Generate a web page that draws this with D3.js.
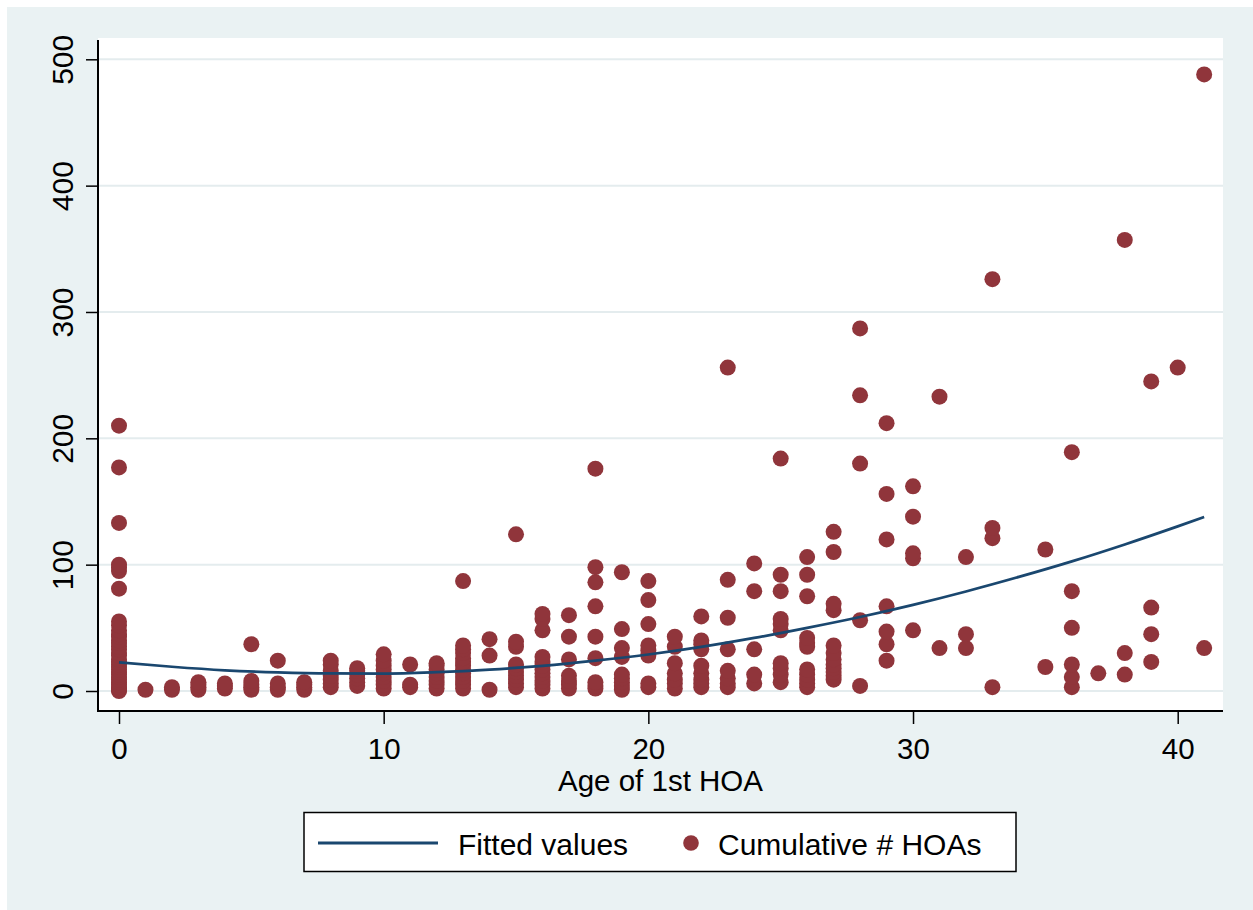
<!DOCTYPE html>
<html>
<head>
<meta charset="utf-8">
<script src="https://cdn.jsdelivr.net/npm/d3@7"></script>
<style>
  html, body { margin: 0; padding: 0; background: #ffffff; }
  svg { display: block; }
  text { font-family: "Liberation Sans", Arial, Helvetica, sans-serif; fill: #000; }
</style>
</head>
<body>
<svg id="chart" width="1253" height="910"></svg>
<script>
// ---- Data ----
const xTicks = [0, 10, 20, 30, 40];
const yTicks = [0, 100, 200, 300, 400, 500];
const xTitle = "Age of 1st HOA";
const legendLabels = ["Fitted values", "Cumulative # HOAs"];

// Cumulative # HOAs, one list per "Age of 1st HOA" (index = age 0..41)
const hoaByAge = [
  [0, 1, 2, 3, 5, 7, 9, 11, 13, 15, 17, 19, 21, 23, 25, 28, 30, 33, 35, 38, 40, 43, 45, 48, 52, 55, 81, 95, 98, 100, 133, 177, 210], // 0
  [1],                                   // 1
  [1, 3],                                // 2
  [1, 3, 5, 7],                          // 3
  [2, 4, 6],                             // 4
  [1, 3, 5, 8, 37],                      // 5
  [1, 3, 6, 24],                         // 6
  [1, 3, 5, 7],                          // 7
  [3, 6, 9, 12, 16, 21, 24],             // 8
  [4, 7, 10, 13, 16, 18],                // 9
  [2, 5, 8, 11, 14, 17, 20, 24, 29],     // 10
  [3, 5, 21],                            // 11
  [2, 5, 8, 11, 14, 17, 20, 22],         // 12
  [2, 5, 8, 11, 14, 17, 20, 23, 26, 30, 33, 36, 87], // 13
  [1, 28, 41],                           // 14
  [3, 6, 9, 12, 15, 18, 21, 35, 39, 124],// 15
  [2, 5, 8, 11, 14, 17, 20, 23, 27, 48, 57, 61], // 16
  [2, 5, 8, 12, 25, 43, 60],             // 17
  [2, 4, 7, 26, 43, 67, 86, 98, 176],    // 18
  [1, 4, 7, 10, 13, 27, 34, 49, 94],     // 19
  [3, 6, 28, 32, 36, 53, 72, 87],        // 20
  [2, 6, 9, 14, 22, 35, 43],             // 21
  [3, 6, 9, 14, 20, 33, 37, 40, 59],     // 22
  [3, 6, 10, 16, 33, 58, 88, 256],       // 23
  [6, 13, 33, 79, 101],                  // 24
  [7, 13, 18, 22, 48, 53, 57, 79, 92, 184], // 25
  [3, 6, 9, 13, 17, 35, 38, 42, 75, 92, 106], // 26
  [9, 12, 15, 18, 21, 25, 30, 36, 64, 69, 110, 126], // 27
  [4, 56, 180, 234, 287],                // 28
  [24, 37, 47, 67, 120, 156, 212],       // 29
  [48, 105, 109, 138, 162],              // 30
  [34, 233],                             // 31
  [34, 45, 106],                         // 32
  [3, 121, 129, 326],                    // 33
  [],                                    // 34
  [19, 112],                             // 35
  [3, 11, 21, 50, 79, 189],              // 36
  [14],                                  // 37
  [13, 30, 357],                         // 38
  [23, 45, 66, 245],                     // 39
  [256],                                 // 40
  [34, 488]                              // 41
];

// Fitted values (quadratic fit line), read at these ages
const fitAges   = [0, 2, 4, 6, 8, 10, 12, 14, 16, 18, 20, 22, 24, 26, 28, 30, 32, 34, 36, 38, 40, 41];
const fitValues = [22.7, 19.2, 16.4, 14.7, 13.9, 13.8, 14.9, 16.9, 19.9, 24.0, 28.9, 34.9, 42.0, 50.0, 58.6, 68.2, 78.8, 90.3, 102.6, 116.0, 130.3, 137.7];

// ---- Layout ----
const W = 1253, H = 910;
const plot = { left: 98, right: 1223, top: 38, bottom: 710 };
const colors = {
  bg: "#eaf2f3", plot: "#ffffff", grid: "#e4ecee",
  marker: "#90353b", line: "#1a476f", axis: "#000000"
};
const fontSize = "29.5px";

const svg = d3.select("#chart");

// Outer graph region (white margin on top/left)
svg.append("rect").attr("x", 0).attr("y", 0).attr("width", W).attr("height", H).attr("fill", "#ffffff");
svg.append("rect").attr("x", 7).attr("y", 7).attr("width", W - 7).attr("height", H - 7).attr("fill", colors.bg);

// Plot region
svg.append("rect")
  .attr("x", plot.left).attr("y", plot.top)
  .attr("width", plot.right - plot.left).attr("height", plot.bottom - plot.top)
  .attr("fill", colors.plot);

const x = d3.scaleLinear().domain([0, 40]).range([119, 1177.7]);
const y = d3.scaleLinear().domain([0, 500]).range([691, 59.3]);

// Gridlines
svg.append("g").selectAll("line").data(yTicks).join("line")
  .attr("x1", plot.left + 1).attr("x2", plot.right)
  .attr("y1", d => y(d)).attr("y2", d => y(d))
  .attr("stroke", colors.grid).attr("stroke-width", 2);

// Points
const points = [];
hoaByAge.forEach((vals, age) => vals.forEach(v => points.push({ age, v })));
svg.append("g").selectAll("circle").data(points).join("circle")
  .attr("cx", d => x(d.age)).attr("cy", d => y(d.v)).attr("r", 8)
  .attr("fill", colors.marker);

// Fitted line
const fit = fitAges.map((a, i) => ({ a, v: fitValues[i] }));
svg.append("path").datum(fit)
  .attr("d", d3.line().x(d => x(d.a)).y(d => y(d.v)).curve(d3.curveMonotoneX))
  .attr("fill", "none").attr("stroke", colors.line).attr("stroke-width", 2.7);

// X axis
const xAxis = svg.append("g").attr("transform", `translate(0,${plot.bottom + 1})`)
  .call(d3.axisBottom(x).tickValues(xTicks).tickSize(13).tickSizeOuter(0).tickFormat(d3.format("d")));
xAxis.select(".domain").attr("d", `M${plot.left - 1},0H${plot.right}`).attr("stroke", colors.axis).attr("stroke-width", 2);
xAxis.selectAll(".tick line").attr("stroke", colors.axis).attr("stroke-width", 1.5);
xAxis.selectAll(".tick text").attr("y", 47.5).attr("dy", null)
  .style("font-size", fontSize).style("font-family", '"Liberation Sans", Arial, sans-serif').attr("fill", "#000");

// Y axis
const yAxis = svg.append("g").attr("transform", `translate(${plot.left},0)`)
  .call(d3.axisLeft(y).tickValues(yTicks).tickSize(12).tickSizeOuter(0).tickFormat(d3.format("d")));
yAxis.select(".domain").attr("d", `M0,40V${plot.bottom + 2}`).attr("stroke", colors.axis).attr("stroke-width", 2);
yAxis.selectAll(".tick line").attr("stroke", colors.axis).attr("stroke-width", 1.5);
yAxis.selectAll(".tick text")
  .attr("x", null).attr("dy", null)
  .attr("transform", "translate(-25,0) rotate(-90)")
  .attr("text-anchor", "middle")
  .style("font-size", "30px").style("font-family", '"Liberation Sans", Arial, sans-serif').attr("fill", "#000");

// X axis title
svg.append("text")
  .attr("x", (plot.left + plot.right) / 2).attr("y", 790.5)
  .attr("text-anchor", "middle").style("font-size", fontSize)
  .text(xTitle);

// Legend
const lg = svg.append("g");
lg.append("rect").attr("x", 304).attr("y", 812.5).attr("width", 712).attr("height", 59)
  .attr("fill", "#ffffff").attr("stroke", "#000").attr("stroke-width", 1.5);
lg.append("line").attr("x1", 318).attr("x2", 438).attr("y1", 843).attr("y2", 843)
  .attr("stroke", colors.line).attr("stroke-width", 3);
lg.append("text").attr("x", 458).attr("y", 855).style("font-size", "30px").text(legendLabels[0]);
lg.append("circle").attr("cx", 691).attr("cy", 843).attr("r", 7.8).attr("fill", colors.marker);
lg.append("text").attr("x", 718).attr("y", 855).style("font-size", "30px").text(legendLabels[1]);
</script>
</body>
</html>
